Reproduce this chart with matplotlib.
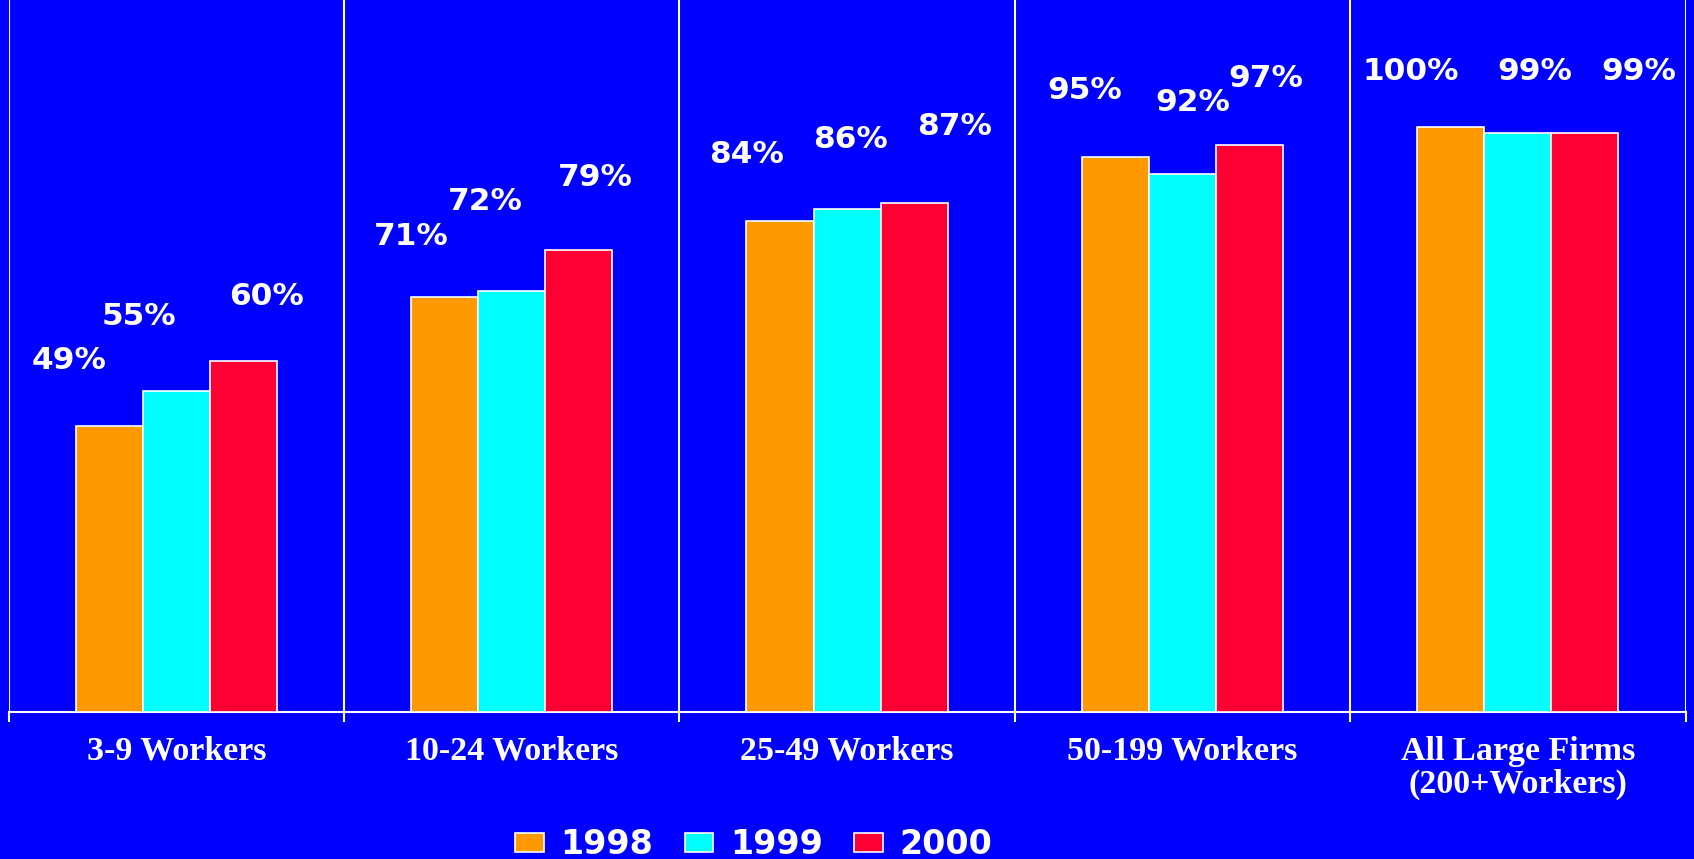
import numpy as np
import matplotlib
matplotlib.use("Agg")
import matplotlib.pyplot as plt

# data
categories = ["3-9 Workers", "10-24 Workers", "25-49 Workers", "50-199 Workers",
              "All Large Firms\n(200+Workers)"]
years = ["1998", "1999", "2000"]
pct_1998 = [49, 71, 84, 95, 100]
pct_1999 = [55, 72, 86, 92, 99]
pct_2000 = [60, 79, 87, 97, 99]

# hand nudges of the value labels (x in bar units, y in percent above bar top)
label_dx = [[-0.12, -0.10, -0.10, -0.09, -0.12],
            [-0.11, -0.08, 0.01, 0.03, 0.05],
            [0.07, 0.05, 0.12, 0.05, 0.16]]
label_dy = [[11.1, 10.3, 11.4, 11.3, 9.6],
            [12.7, 15.3, 12.0, 12.3, 10.6],
            [11.0, 12.5, 13.2, 11.3, 10.6]]

blue = "#0000FF"
colors = ["#FF9900", "#00FFFF", "#FF0033"]

fig = plt.figure(figsize=(16.94, 8.59), dpi=100, facecolor=blue)
ax = fig.add_axes([0.0051, 0.1711, 0.9899, 0.8289], facecolor=blue)

x = np.arange(len(categories))
width = 0.2
series = [pct_1998, pct_1999, pct_2000]
for k, vals in enumerate(series):
    pos = x + (k - 1) * width
    ax.bar(pos, vals, width, color=colors[k], edgecolor="white", linewidth=1.2,
           label=years[k], zorder=3)
    for i, v in enumerate(vals):
        ax.text(pos[i] + label_dx[k][i], v + label_dy[k][i], f"{v}%",
                ha="center", va="center", color="white", fontsize=22.5,
                fontweight="bold", family="DejaVu Sans", zorder=4)

ax.set_xlim(-0.5, len(categories) - 0.5)
ax.set_ylim(0, 121.8)
ax.set_yticks([])

# group separators
bounds = np.arange(len(categories) + 1) - 0.5
for b in bounds:
    ax.axvline(b, color="white", linewidth=1.5, zorder=2)

ax.set_xticks(bounds, minor=True)
ax.tick_params(axis="x", which="minor", length=7, width=1.5, color="white", direction="out")
ax.set_xticks(x)
ax.set_xticklabels(categories, color="white", fontsize=24.5, fontweight="bold",
                   family="Liberation Serif", linespacing=1.1)
ax.tick_params(axis="x", which="major", length=0, pad=17)

for s in ["top", "right", "left"]:
    ax.spines[s].set_visible(False)
ax.spines["bottom"].set_color("white")
ax.spines["bottom"].set_linewidth(1.5)

leg = fig.legend(loc="center", bbox_to_anchor=(0.445, 0.017), ncol=3, frameon=False,
                 prop={"family": "DejaVu Sans", "weight": "bold", "size": 24},
                 handlelength=0.85, handleheight=0.5, handletextpad=0.5,
                 columnspacing=0.95)
for t in leg.get_texts():
    t.set_color("white")

fig.savefig("out.png", dpi=100, facecolor=blue)
